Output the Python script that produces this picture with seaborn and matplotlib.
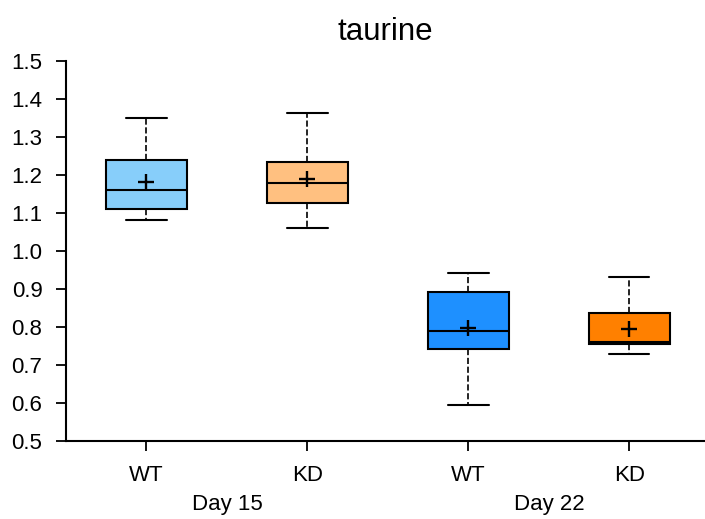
import numpy as np
import pandas as pd
import seaborn as sns
import matplotlib.pyplot as plt
from matplotlib.transforms import blended_transform_factory

# groups in plotting order
groups = ['D15_WT', 'D15_KD', 'D22_WT', 'D22_KD']
tick_labels = ['WT', 'KD', 'WT', 'KD']
day_labels = ['Day 15', 'Day 22']

# five-number summaries: min, q1, median, q3, max
whisk_low = [1.082, 1.061, 0.596, 0.730]
q1 = [1.111, 1.126, 0.743, 0.756]
median = [1.160, 1.180, 0.790, 0.761]
q3 = [1.239, 1.233, 0.892, 0.838]
whisk_high = [1.351, 1.364, 0.941, 0.932]
means = [1.182, 1.189, 0.797, 0.796]

colors = ['#87CEFA', '#FFC080', '#1E90FF', '#FF8000']

# build long table (5 points per group -> exact quartiles)
rows = []
for i, g in enumerate(groups):
    for v in [whisk_low[i], q1[i], median[i], q3[i], whisk_high[i]]:
        rows.append({'group': g, 'value': v})
df = pd.DataFrame(rows)
df_mean = pd.DataFrame({'group': groups, 'value': means})

sns.set_style('ticks')
plt.rcParams['font.family'] = ['Liberation Sans', 'DejaVu Sans']
plt.rcParams['text.color'] = 'black'

fig = plt.figure(figsize=(7.05, 5.19), dpi=100)
ax = fig.add_axes([66 / 705, 1 - 441 / 519, 639 / 705, 380 / 519])

sns.boxplot(data=df, x='group', y='value', hue='group', order=groups,
            hue_order=groups, palette=colors, legend=False, saturation=1,
            width=0.5, whis=(0, 100), linewidth=1.5, linecolor='black',
            whiskerprops={'linestyle': '--', 'linewidth': 1.2},
            capprops={'linewidth': 1.5},
            medianprops={'linewidth': 1.5, 'color': 'black'},
            ax=ax)

sns.stripplot(data=df_mean, x='group', y='value', order=groups,
              jitter=False, marker='+', color='black', size=12,
              linewidth=1.7, ax=ax)

ax.set_xlim(-0.5, 3.47)
ax.set_ylim(0.5, 1.5)
ax.set_yticks(np.arange(0.5, 1.51, 0.1))
ax.set_yticklabels([f'{v:.1f}' for v in np.arange(0.5, 1.51, 0.1)])
ax.set_xticks(range(len(groups)))
ax.set_xticklabels(tick_labels)
ax.tick_params(axis='both', labelsize=16, length=7, width=1.3, pad=10,
               colors='black')
ax.set_xlabel('')
ax.set_ylabel('')

for side in ['top', 'right']:
    ax.spines[side].set_visible(False)
for side in ['left', 'bottom']:
    ax.spines[side].set_linewidth(1.5)
    ax.spines[side].set_color('black')

# day labels under the tick labels
trans = blended_transform_factory(ax.transData, ax.transAxes)
ax.text(0.5, -0.1816, day_labels[0], transform=trans, ha='center',
        va='baseline', fontsize=16)
ax.text(2.5, -0.1816, day_labels[1], transform=trans, ha='center',
        va='baseline', fontsize=16)

ax.set_title('taurine', fontsize=22.5, pad=15, color='black')

fig.savefig('out.png', dpi=100)
